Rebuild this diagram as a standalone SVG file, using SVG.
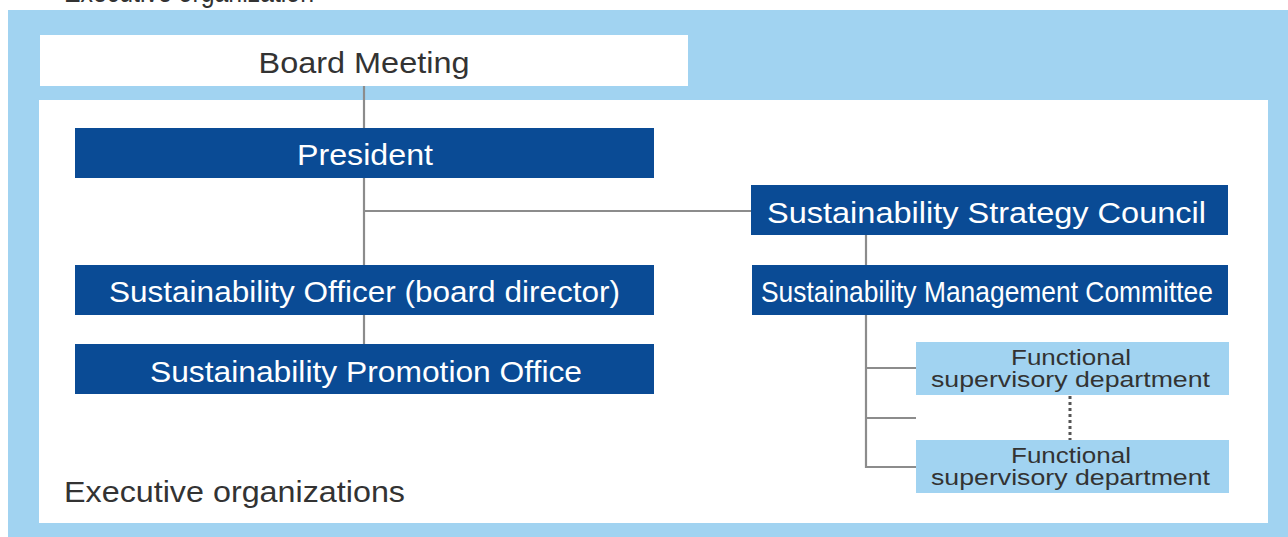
<svg xmlns="http://www.w3.org/2000/svg" width="1288" height="537" viewBox="0 0 1288 537">
  <style>
    text { font-family: "Liberation Sans", Arial, Helvetica, sans-serif; }
    .frame { fill: #a1d3f1; }
    .panel { fill: #ffffff; }
    .dark { fill: #0a4b95; }
    .light { fill: #a1d3f1; }
    .lbl-w { fill: #ffffff; font-size: 29px; text-anchor: middle; }
    .lbl-d { fill: #333333; text-anchor: middle; }
    .caption { fill: #333333; font-size: 29px; }
    .link { stroke: #8c8c8c; stroke-width: 2.2; fill: none; }
    .dots { stroke: #555555; stroke-width: 3; stroke-dasharray: 3 3; fill: none; }
  </style>

  <!-- heading (clipped at the top edge) -->
  <text class="caption" x="64" y="1.5" font-size="27" textLength="250" lengthAdjust="spacingAndGlyphs">Executive organization</text>

  <!-- outer frame and executive panel -->
  <rect class="frame" x="8" y="10" width="1280" height="527"/>
  <rect class="panel" x="39" y="100" width="1229" height="423"/>
  <text class="caption" x="64" y="502" textLength="341" lengthAdjust="spacingAndGlyphs">Executive organizations</text>

  <!-- connectors -->
  <g id="connectors">
    <path class="link" d="M364 86 V265"/>
    <path class="link" d="M364 315 V344"/>
    <path class="link" d="M364 211 H751"/>
    <path class="link" d="M866 235 V265"/>
    <path class="link" d="M866 315 V467 H916"/>
    <path class="link" d="M866 368 H916"/>
    <path class="link" d="M866 418 H916"/>
    <path class="dots" d="M1070 396 V440"/>
  </g>

  <g id="board-meeting">
    <rect class="panel" x="40" y="35" width="648" height="51"/>
    <text class="lbl-d" x="364" y="73" font-size="30" textLength="211" lengthAdjust="spacingAndGlyphs">Board Meeting</text>
  </g>

  <g id="president">
    <rect class="dark" x="75" y="128" width="579" height="50"/>
    <text class="lbl-w" x="365" y="165" textLength="136" lengthAdjust="spacingAndGlyphs">President</text>
  </g>

  <g id="strategy-council">
    <rect class="dark" x="751" y="185" width="477" height="50"/>
    <text class="lbl-w" x="986.5" y="223" textLength="439" lengthAdjust="spacingAndGlyphs">Sustainability Strategy Council</text>
  </g>

  <g id="sustainability-officer">
    <rect class="dark" x="75" y="265" width="579" height="50"/>
    <text class="lbl-w" x="364.5" y="302" textLength="511" lengthAdjust="spacingAndGlyphs">Sustainability Officer (board director)</text>
  </g>

  <g id="promotion-office">
    <rect class="dark" x="75" y="344" width="579" height="50"/>
    <text class="lbl-w" x="366" y="382" textLength="432" lengthAdjust="spacingAndGlyphs">Sustainability Promotion Office</text>
  </g>

  <g id="management-committee">
    <rect class="dark" x="752" y="265" width="476" height="50"/>
    <text class="lbl-w" x="987" y="302" textLength="452" lengthAdjust="spacingAndGlyphs">Sustainability Management Committee</text>
  </g>

  <g id="functional-dept-1">
    <rect class="light" x="916" y="342" width="313" height="53"/>
    <text class="lbl-d" x="1071" y="365" font-size="22" textLength="120" lengthAdjust="spacingAndGlyphs">Functional</text>
    <text class="lbl-d" x="1070.5" y="387" font-size="22" textLength="279" lengthAdjust="spacingAndGlyphs">supervisory department</text>
  </g>

  <g id="functional-dept-2">
    <rect class="light" x="916" y="440" width="313" height="53"/>
    <text class="lbl-d" x="1071" y="463" font-size="22" textLength="120" lengthAdjust="spacingAndGlyphs">Functional</text>
    <text class="lbl-d" x="1070.5" y="485" font-size="22" textLength="279" lengthAdjust="spacingAndGlyphs">supervisory department</text>
  </g>
</svg>
